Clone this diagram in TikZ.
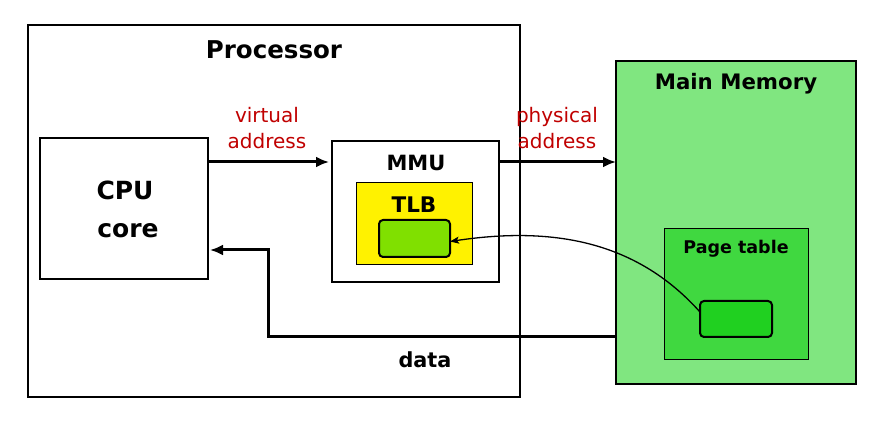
\documentclass[tikz,border=0pt]{standalone}
\usepackage{fontspec}
\setmainfont{DejaVu Sans}
\usetikzlibrary{arrows.meta,calc}
\definecolor{redlbl}{RGB}{192,0,0}
\definecolor{memgreen}{RGB}{128,230,128}
\definecolor{ptgreen}{RGB}{64,216,64}
\definecolor{pteg}{RGB}{32,208,32}
\definecolor{tlbeg}{RGB}{128,224,0}
\tikzset{
  box/.style={draw, line width=2pt, inner sep=0pt, outer sep=0pt, anchor=north west},
  entry/.style={draw, line width=2pt, rounded corners=4pt, inner sep=0pt, outer sep=0pt, anchor=north west},
  title/.style={font=\bfseries, inner sep=0pt},
  lbl/.style={text=redlbl, font=\fontsize{20}{26}\selectfont, align=center, inner sep=0pt},
  bigarrow/.style={line width=3pt, -{Latex[length=13pt,width=11pt]}},
  thinarrow/.style={line width=1.3pt, -{Stealth[length=9pt,width=7pt,inset=2pt]}}
}
\begin{document}
\begin{tikzpicture}[x=1pt,y=-1pt]
\useasboundingbox (0,0) rectangle (884,427);
% boxes
\node[box, minimum width=492pt, minimum height=372pt] (proc) at (28,25) {};
\node[box, minimum width=168pt, minimum height=141pt] (cpu) at (40,138) {};
\node[box, minimum width=167pt, minimum height=141pt] (mmu) at (332,141) {};
\node[draw, line width=1pt, fill=yellow, inner sep=0pt, outer sep=0pt, anchor=north west, minimum width=116pt, minimum height=82pt] (tlb) at (356,183) {};
\node[entry, fill=tlbeg, minimum width=71pt, minimum height=37pt] (tlbe) at (379,220) {};
\node[box, fill=memgreen, minimum width=240pt, minimum height=323pt] (mem) at (616,61) {};
\node[draw, line width=1pt, fill=ptgreen, inner sep=0pt, outer sep=0pt, anchor=north west, minimum width=144pt, minimum height=131pt] (pt) at (664,229) {};
\node[entry, fill=pteg, minimum width=72pt, minimum height=36pt] (pte) at (700,301) {};
% titles
\node[title, font=\bfseries\fontsize{24.5}{28}\selectfont] (proct) at (274,50) {Processor};
\node[title, font=\bfseries\fontsize{25}{28}\selectfont] (cput1) at (125,190) {CPU};
\node[title, font=\bfseries\fontsize{25}{28}\selectfont] (cput2) at (128,231) {core};
\node[title, font=\bfseries\fontsize{21}{24}\selectfont] (mmut) at (416,163) {MMU};
\node[title, font=\bfseries\fontsize{21.5}{24}\selectfont] (tlbt) at (414,205) {TLB};
\node[title, font=\bfseries\fontsize{21.3}{24}\selectfont] (memt) at (736,84) {Main Memory};
\node[title, font=\bfseries\fontsize{17.5}{20}\selectfont] (ptt) at (736,249) {Page table};
\node[title, font=\bfseries\fontsize{20.8}{24}\selectfont] (datat) at (425,360) {data};
\node[lbl] (va) at (267,128) {virtual\\address};
\node[lbl] (pa) at (557,128) {physical\\address};
% connectors
\coordinate (ay) at (0,162);
\coordinate (dA) at (268,337);
\coordinate (dB) at (268,250);
\draw[bigarrow, shorten >=3pt] (cpu.east |- ay) -- (mmu.west |- ay);
\draw[bigarrow] (mmu.east |- ay) -- (mem.west |- ay);
\draw[bigarrow, shorten >=2pt] (mem.west |- dA) -- (dA) -- (dB) -- (cpu.east |- dB);
\draw[thinarrow] ($(pte.west)+(0,-7)$) .. controls (640,245) and (560,225) .. ($(tlbe.east)+(0,3)$);
\end{tikzpicture}
\end{document}
